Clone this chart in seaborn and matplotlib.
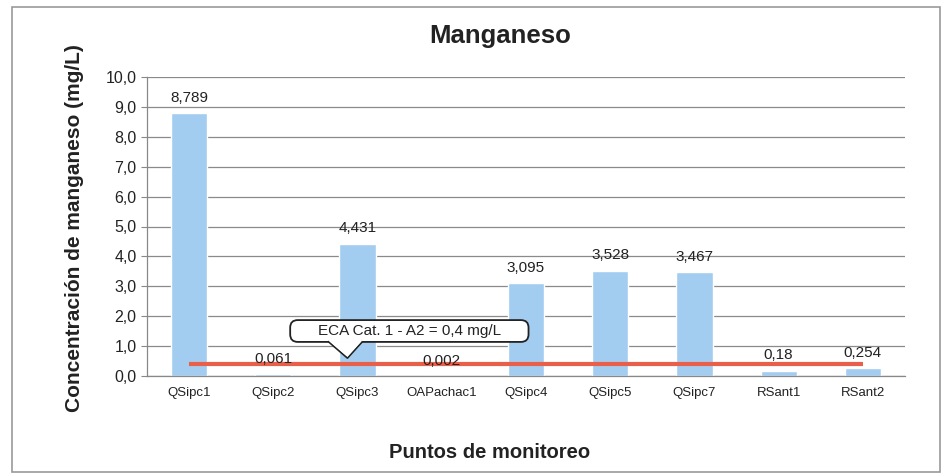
import matplotlib
matplotlib.use("Agg")
import matplotlib.pyplot as plt
import seaborn as sns
import pandas as pd
from matplotlib.patches import Rectangle, FancyBboxPatch, Polygon
from matplotlib.ticker import FuncFormatter

# Data
puntos = ["QSipc1", "QSipc2", "QSipc3", "OAPachac1", "QSipc4",
          "QSipc5", "QSipc7", "RSant1", "RSant2"]
manganeso = [8.789, 0.061, 4.431, 0.002, 3.095, 3.528, 3.467, 0.18, 0.254]
eca_limite = 0.4
etiquetas = ["8,789", "0,061", "4,431", "0,002", "3,095", "3,528", "3,467", "0,18", "0,254"]

df = pd.DataFrame({"Punto": puntos, "Mn": manganeso})

sns.set_style("white")
plt.rcParams["font.family"] = ["Liberation Sans", "DejaVu Sans"]

W, H = 949, 474
fig = plt.figure(figsize=(W / 100, H / 100), dpi=100)
ax = fig.add_axes([147 / W, 1 - 376 / H, 758 / W, 299 / H])

sns.barplot(data=df, x="Punto", y="Mn", color="#a3cdf0", saturation=1,
            width=0.43, ax=ax, zorder=2)

# ECA limit line
ax.plot([0, len(puntos) - 1], [eca_limite, eca_limite], color="#e9604a",
        lw=3, zorder=3, solid_capstyle="butt")

# value labels
for i, (v, t) in enumerate(zip(manganeso, etiquetas)):
    ax.annotate(t, (i, v), xytext=(0, 6), textcoords="offset points",
                ha="center", va="bottom", fontsize=11, color="#222222")

ax.set_ylim(0, 10)
ax.set_xlim(-0.5, len(puntos) - 0.5)
ax.set_yticks(range(0, 11))
ax.yaxis.set_major_formatter(FuncFormatter(lambda v, p: f"{v:.1f}".replace(".", ",")))
ax.grid(axis="y", color="#8a8a8a", lw=0.9, zorder=0)
ax.set_axisbelow(True)

for s in ["top", "right"]:
    ax.spines[s].set_visible(False)
for s in ["left", "bottom"]:
    ax.spines[s].set_color("#888888")
    ax.spines[s].set_linewidth(0.9)

ax.set_xticks([i + 0.5 for i in range(-1, len(puntos))], minor=True)
ax.tick_params(axis="x", which="major", length=0, labelsize=9.5, pad=8, colors="#222222")
ax.tick_params(axis="x", which="minor", length=4, color="#888888", direction="out")
ax.tick_params(axis="y", length=4, color="#888888", labelsize=11.5, colors="#222222", left=True)

ax.set_xlabel("")
ax.set_ylabel("")
fig.text(500 / W, 1 - 36 / H, "Manganeso", fontsize=18.5, fontweight="bold",
         ha="center", va="center", color="#222222")
fig.text(75 / W, 1 - 228 / H, "Concentración de manganeso (mg/L)", fontsize=15,
         fontweight="bold", rotation=90, ha="center", va="center", color="#222222")
fig.text(490 / W, 1 - 453 / H, "Puntos de monitoreo", fontsize=14.5,
         fontweight="bold", ha="center", va="center", color="#222222")

# callout for ECA limit (rounded box with pointer, in data coords)
asp = (84.1 / 29.9)
box = FancyBboxPatch((1.2, 1.14), 2.83, 0.73,
                     boxstyle="round,pad=0,rounding_size=0.09",
                     mutation_aspect=asp, fc="white", ec="#222222", lw=1.3, zorder=5)
ax.add_patch(box)
ax.add_patch(Polygon([(1.65, 1.16), (1.88, 0.6), (2.06, 1.16)], closed=False,
                     fc="white", ec="#222222", lw=1.3, zorder=5, joinstyle="round"))
ax.add_patch(Polygon([(1.66, 1.17), (1.88, 0.64), (2.05, 1.17)], closed=True,
                     fc="white", ec="none", zorder=6))
ax.text(2.615, 1.5, "ECA Cat. 1 - A2 = 0,4 mg/L", ha="center", va="center",
        fontsize=11, color="#222222", zorder=7)

# outer frame
fig.patches.append(Rectangle((12 / W, 2 / H), 928 / W, 1 - 9 / H,
                             transform=fig.transFigure, fill=False,
                             ec="#999999", lw=1.2))

fig.savefig("out.png", dpi=100)
